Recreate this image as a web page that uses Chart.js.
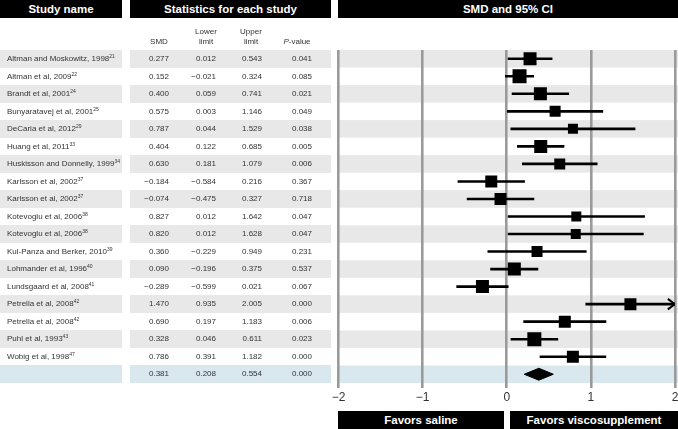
<!DOCTYPE html>
<html lang="en">
<head>
<meta charset="UTF-8">
<title>Viscosupplement vs saline - SMD forest plot</title>
<script src="https://cdn.jsdelivr.net/npm/chart.js"></script>
<style>
  body { margin: 0; background: #fff; font-family: "Liberation Sans", Arial, sans-serif; }
  #wrap { position: relative; width: 678px; height: 429px; overflow: hidden; }
  #plot { position: absolute; left: 0; top: 0; }
  .bar { position: absolute; background: #000; color: #fff; font-weight: bold; text-align: center; white-space: nowrap; font-size: 11.5px; }
  .bg { position: absolute; }
  .txt { position: absolute; font-size: 8px; color: #333; white-space: nowrap; }
  .txt sup { font-size: 5px; vertical-align: 3px; line-height: 0; }
</style>
</head>
<body>
<div id="wrap">
  <canvas id="plot" width="678" height="429"></canvas>
  <div id="table"></div>
</div>

<script>
  // study rows, top to bottom
  const studies = [
    'Altman and Moskowitz, 1998', 'Altman et al, 2009', 'Brandt et al, 2001', 'Bunyaratavej et al, 2001',
    'DeCaria et al, 2012', 'Huang et al, 2011', 'Huskisson and Donnelly, 1999', 'Karlsson et al, 2002',
    'Karlsson et al, 2002', 'Kotevoglu et al, 2006', 'Kotevoglu et al, 2006', 'Kul-Panza and Berker, 2010',
    'Lohmander et al, 1996', 'Lundsgaard et al, 2008', 'Petrella et al, 2008', 'Petrella et al, 2008',
    'Puhl et al, 1993', 'Wobig et al, 1998'
  ];
  const refs = ['21', '22', '24', '25', '29', '33', '34', '37', '37', '38', '38', '39', '40', '41', '42', '42', '43', '47'];
  const smd   = [0.277, 0.152, 0.400, 0.575, 0.787, 0.404, 0.630, -0.184, -0.074, 0.827, 0.820, 0.360, 0.090, -0.289, 1.470, 0.690, 0.328, 0.786];
  const lower = [0.012, -0.021, 0.059, 0.003, 0.044, 0.122, 0.181, -0.584, -0.475, 0.012, 0.012, -0.229, -0.196, -0.599, 0.935, 0.197, 0.046, 0.391];
  const upper = [0.543, 0.324, 0.741, 1.146, 1.529, 0.685, 1.079, 0.216, 0.327, 1.642, 1.628, 0.949, 0.375, 0.021, 2.005, 1.183, 0.611, 1.182];
  const pValues = ['0.041', '0.085', '0.021', '0.049', '0.038', '0.005', '0.006', '0.367', '0.718', '0.047', '0.047', '0.231', '0.537', '0.067', '0.000', '0.006', '0.023', '0.000'];
  // box side in px as drawn (study weight)
  const boxSide = [13, 14, 13, 11, 10, 13, 11, 12, 12, 10, 10, 11, 13, 13, 12, 12, 14, 12];

  // pooled estimate
  const pooledSmd = 0.381;
  const pooledLower = 0.208;
  const pooledUpper = 0.554;
  const pooledP = '0.000';

  const xTicks = [-2, -1, 0, 1, 2];
  const xMin = -2, xMax = 2;

  const TOP = 50, BOTTOM = 383;
  const nRows = studies.length + 1;
  const rowH = (BOTTOM - TOP) / nRows;
  const GREY = '#e8e8e8', BLUE = '#d8e8ee';

  function fmt(v) {
    return (v < 0 ? '\u2212' : '') + Math.abs(v).toFixed(3);
  }

  // ---- table (html) ----
  const table = document.getElementById('table');
  function add(cls, css, html) {
    const d = document.createElement('div');
    d.className = cls;
    Object.assign(d.style, css);
    if (html !== undefined) d.innerHTML = html;
    table.appendChild(d);
    return d;
  }

  add('bar', { left: '0px', top: '0px', width: '122px', height: '18px', lineHeight: '18px' }, 'Study name');
  add('bar', { left: '130px', top: '0px', width: '201px', height: '18px', lineHeight: '18px' }, 'Statistics for each study');
  add('bar', { left: '338px', top: '0px', width: '340px', height: '18px', lineHeight: '18px' }, 'SMD and 95% CI');
  add('bar', { left: '338px', top: '411px', width: '166px', height: '18px', lineHeight: '18px' }, 'Favors saline');
  add('bar', { left: '510px', top: '411px', width: '168px', height: '18px', lineHeight: '18px' }, 'Favors viscosupplement');

  // column headers
  const colRight = [169, 216, 262, 312];
  const colHead = ['SMD', 'Lower<br>limit', 'Upper<br>limit', '<i>P</i>-value'];
  const colCenter = [159, 206, 251, 297];
  colHead.forEach((h, c) => {
    add('txt', { left: (colCenter[c] - 30) + 'px', width: '60px', textAlign: 'center',
      bottom: (429 - 47) + 'px', lineHeight: '10px' }, h);
  });

  for (let i = 0; i < nRows; i++) {
    const top = TOP + i * rowH;
    const pooled = i === nRows - 1;
    const bg = pooled ? BLUE : (i % 2 === 0 ? GREY : '#fff');
    add('bg', { left: '0px', top: top + 'px', width: '122px', height: rowH + 'px', background: bg });
    add('bg', { left: '130px', top: top + 'px', width: '201px', height: rowH + 'px', background: bg });
    const vals = pooled
      ? [fmt(pooledSmd), fmt(pooledLower), fmt(pooledUpper), pooledP]
      : [fmt(smd[i]), fmt(lower[i]), fmt(upper[i]), pValues[i]];
    if (!pooled) {
      add('txt', { left: '7px', top: top + 'px', lineHeight: rowH + 'px' }, studies[i] + '<sup>' + refs[i] + '</sup>');
    }
    vals.forEach((v, c) => {
      add('txt', { left: (colRight[c] - 60) + 'px', width: '60px', textAlign: 'right',
        top: top + 'px', lineHeight: rowH + 'px' }, v);
    });
  }

  // ---- forest plot (chart.js) ----
  const ciData = [];
  const arrows = [];
  studies.forEach((s, i) => {
    ciData.push({ x: lower[i], y: i }, { x: Math.min(upper[i], xMax), y: i }, { x: null, y: null });
    if (upper[i] > xMax) {
      arrows.push({
        type: 'line',
        data: [{ x: xMax - 0.085, y: i - 0.3 }, { x: xMax, y: i }, { x: xMax - 0.085, y: i + 0.3 }],
        borderColor: '#000', borderWidth: 2, pointRadius: 0, fill: false
      });
    }
  });

  const pooledRow = nRows - 1;

  const rowBands = {
    id: 'rowBands',
    beforeDraw(chart) {
      const { ctx, chartArea, scales: { y } } = chart;
      ctx.save();
      for (let i = 0; i < nRows; i++) {
        const fill = i === pooledRow ? BLUE : (i % 2 === 0 ? GREY : null);
        if (!fill) continue;
        const y0 = y.getPixelForValue(i - 0.5);
        const y1 = y.getPixelForValue(i + 0.5);
        ctx.fillStyle = fill;
        ctx.fillRect(chartArea.left - 1, y0, chart.width - chartArea.left + 1, y1 - y0);
      }
      ctx.restore();
    }
  };

  new Chart(document.getElementById('plot'), {
    type: 'scatter',
    data: {
      datasets: [
        {
          type: 'scatter',
          data: smd.map((v, i) => ({ x: v, y: i })),
          pointStyle: 'rect',
          pointRadius: boxSide.map(s => s / Math.SQRT2),
          backgroundColor: '#000',
          borderWidth: 0
        },
        {
          type: 'line',
          data: ciData,
          borderColor: '#000',
          borderWidth: 2.6,
          borderCapStyle: 'butt',
          pointRadius: 0,
          spanGaps: false,
          fill: false
        },
        ...arrows,
        {
          type: 'line',
          data: [{ x: pooledLower, y: pooledRow }, { x: pooledSmd, y: pooledRow - 0.34 }, { x: pooledUpper, y: pooledRow }],
          borderColor: '#000', borderWidth: 1, pointRadius: 0,
          backgroundColor: '#000', fill: '+1'
        },
        {
          type: 'line',
          data: [{ x: pooledLower, y: pooledRow }, { x: pooledSmd, y: pooledRow + 0.34 }, { x: pooledUpper, y: pooledRow }],
          borderColor: '#000', borderWidth: 1, pointRadius: 0, fill: false
        }
      ]
    },
    options: {
      responsive: false,
      animation: false,
      events: [],
      layout: { autoPadding: false, padding: { top: TOP, left: 338.5, right: 3, bottom: 0 } },
      plugins: { legend: { display: false }, tooltip: { enabled: false } },
      scales: {
        x: {
          type: 'linear',
          min: xMin,
          max: xMax,
          afterBuildTicks: scale => { scale.ticks = xTicks.map(v => ({ value: v })); },
          afterFit: scale => { scale.height = 429 - BOTTOM; scale.paddingLeft = 0; scale.paddingRight = 0; },
          ticks: {
            padding: 2,
            color: '#333',
            font: { family: '"Liberation Sans", Arial, sans-serif', size: 12 },
            callback: v => (v < 0 ? '\u2212' + Math.abs(v) : String(v))
          },
          grid: { color: '#9a9a9a', lineWidth: 2.6, tickLength: 5, drawTicks: true },
          border: { display: false }
        },
        y: {
          type: 'linear',
          display: false,
          min: -0.5,
          max: nRows - 0.5,
          reverse: true
        }
      }
    },
    plugins: [rowBands]
  });
</script>
</body>
</html>
